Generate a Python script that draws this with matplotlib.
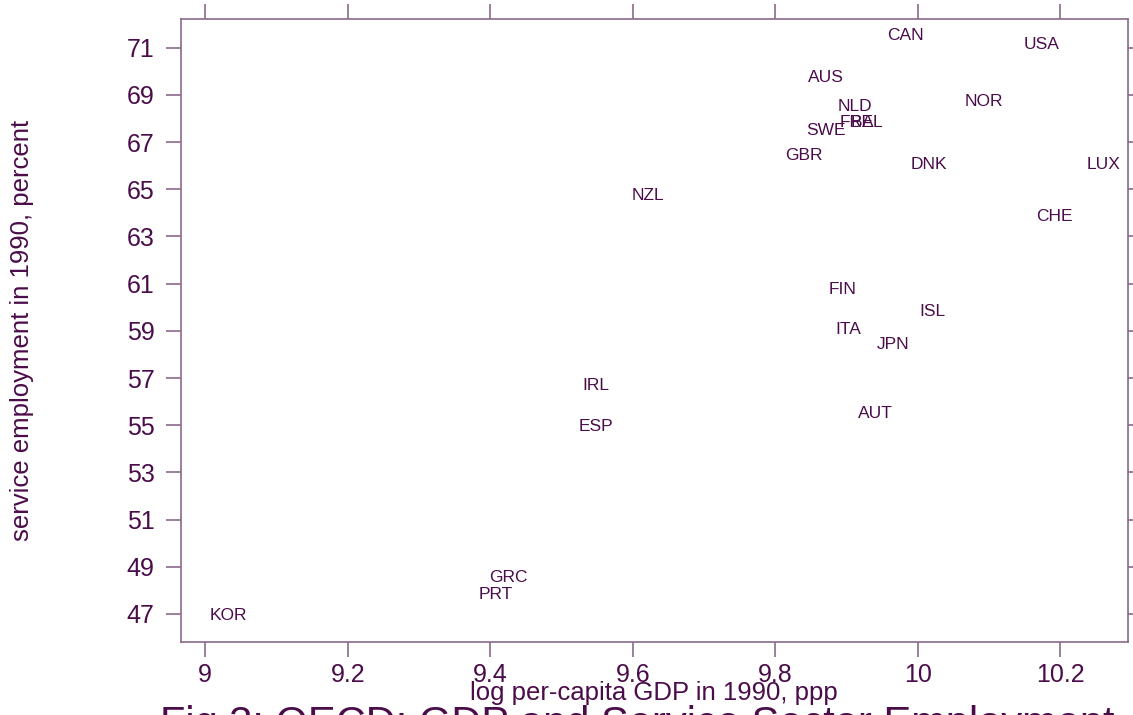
import matplotlib
matplotlib.use("Agg")
import matplotlib.pyplot as plt

# OECD countries, 1990
countries = ["CAN", "USA", "AUS", "NOR", "NLD", "FRA", "BEL", "SWE", "GBR",
             "DNK", "LUX", "NZL", "CHE", "FIN", "ISL", "ITA", "JPN", "IRL",
             "AUT", "ESP", "GRC", "PRT", "KOR"]
log_gdp = [9.982, 10.174, 9.871, 10.093, 9.912, 9.915, 9.929, 9.871, 9.840,
           10.015, 10.261, 9.621, 10.191, 9.895, 10.020, 9.902, 9.966, 9.548,
           9.940, 9.548, 9.426, 9.408, 9.032]
service_emp = [71.54, 71.16, 69.76, 68.74, 68.49, 67.84, 67.84, 67.51, 66.45,
               66.07, 66.07, 64.75, 63.86, 60.77, 59.84, 59.07, 58.44, 56.70,
               55.51, 54.96, 48.56, 47.84, 46.95]

x_ticks = [9, 9.2, 9.4, 9.6, 9.8, 10, 10.2]
x_ticklabels = ["9", "9.2", "9.4", "9.6", "9.8", "10", "10.2"]
y_ticks = list(range(47, 72, 2))

text_col = "#4a0d4a"
line_col = "#8a6a8a"

plt.rcParams["font.family"] = ["Liberation Sans", "DejaVu Sans"]

W, H = 1133, 715
fig = plt.figure(figsize=(W / 100, H / 100), dpi=100)
ax = fig.add_axes([181 / W, 1 - 642 / H, (1128 - 181) / W, (642 - 19) / H])

for name, xv, yv in zip(countries, log_gdp, service_emp):
    ax.text(xv, yv, name, ha="center", va="center", fontsize=12.5, color=text_col)

ax.set_xlim(8.966, 10.295)
ax.set_ylim(45.81, 72.22)
ax.set_xticks(x_ticks)
ax.set_xticklabels(x_ticklabels)
ax.set_yticks(y_ticks)

for s in ax.spines.values():
    s.set_color(line_col)
    s.set_linewidth(1.2)

ax.tick_params(axis="both", direction="out", length=11, width=1.2, color=line_col,
               labelcolor=text_col, labelsize=18, top=True, right=True,
               labeltop=False, labelright=False)
ax.tick_params(axis="x", pad=4)
ax.tick_params(axis="y", pad=8)

# axis titles and figure caption (caption is cut by the bottom edge, as in the original)
fig.text(653.5 / W, 15 / H, "log per-capita GDP in 1990, ppp",
         ha="center", va="baseline", fontsize=18.5, color=text_col)
fig.text(22 / W, 1 - 330 / H, "service employment in 1990, percent",
         ha="center", va="center", rotation=90, fontsize=18.5, color=text_col)
fig.text(637.5 / W, -21 / H, "Fig 3: OECD: GDP and Service Sector Employment",
         ha="center", va="baseline", fontsize=30, color=text_col)

fig.savefig("out.png", dpi=100)
